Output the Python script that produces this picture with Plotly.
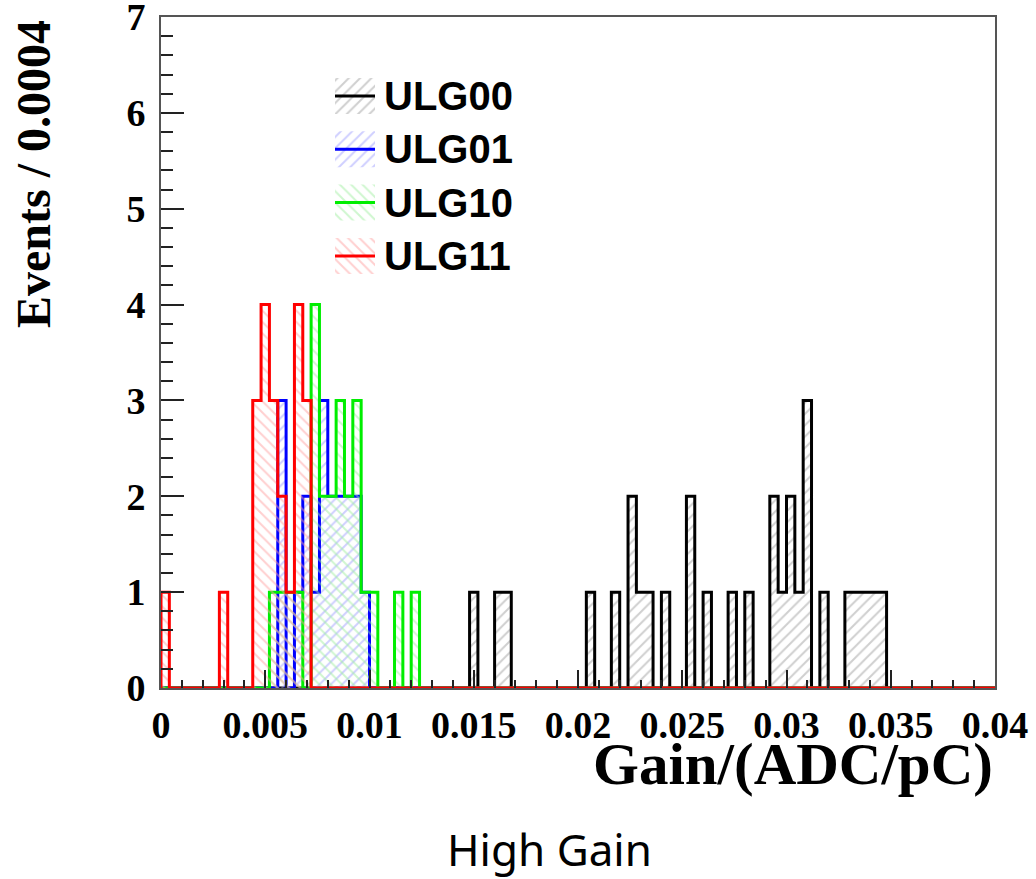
import plotly.graph_objects as go

# ---------------- data ----------------
x_min, x_max = 0.0, 0.04
bin_width = 0.0004
n_bins = 100

# non-empty bins (bin index, counts) per board
ulg00_bins = [37, 40, 41, 51, 54, 56, 57, 58, 60, 63, 65, 68, 70, 73, 74, 75, 76, 77, 79, 82, 83, 84, 85, 86]
ulg00_counts = [1, 1, 1, 1, 1, 2, 1, 1, 1, 2, 1, 1, 1, 2, 1, 2, 1, 3, 1, 1, 1, 1, 1, 1]

ulg01_bins = [14, 16, 17, 18, 19, 20, 21, 22, 23, 24]
ulg01_counts = [3, 1, 2, 1, 3, 2, 2, 2, 2, 1]

ulg10_bins = [13, 14, 15, 16, 18, 19, 20, 21, 22, 23, 24, 25, 28, 30]
ulg10_counts = [1, 1, 1, 1, 4, 2, 2, 3, 2, 3, 1, 1, 1, 1]

ulg11_bins = [0, 7, 11, 12, 13, 14, 15, 16, 17]
ulg11_counts = [1, 1, 3, 4, 3, 2, 1, 4, 3]

series_names = ["ULG00", "ULG01", "ULG10", "ULG11"]
line_colors = ["#000000", "#0000ff", "#00ee00", "#ff0000"]
hatch_colors = ["#a0a0a0", "#a0a0ff", "#a0eea0", "#ffa0a0"]
hatch_shapes = ["/", "/", "\\", "\\"]

x_ticks = [0, 0.005, 0.01, 0.015, 0.02, 0.025, 0.03, 0.035, 0.04]
y_ticks = [0, 1, 2, 3, 4, 5, 6, 7]

# ---------------- helpers ----------------
edges = [x_min + i * bin_width for i in range(n_bins + 1)]


def histogram(bins, counts):
    h = [0] * n_bins
    for b, c in zip(bins, counts):
        h[b] = c
    return h


def step_xy(h):
    xs = [edges[0]] + edges[:-1] + [edges[-1]]
    ys = [0] + h + [0]
    return xs, ys


all_series = [
    (ulg00_bins, ulg00_counts),
    (ulg01_bins, ulg01_counts),
    (ulg10_bins, ulg10_counts),
    (ulg11_bins, ulg11_counts),
]

fig = go.Figure()

for (bins, counts), name, lc, hc, hs in zip(all_series, series_names, line_colors, hatch_colors, hatch_shapes):
    xs, ys = step_xy(histogram(bins, counts))
    fig.add_trace(go.Scatter(
        x=xs, y=ys, mode="lines", name=name,
        line=dict(color=lc, width=3, shape="hv"),
        fill="tozeroy", fillcolor="rgba(0,0,0,0)",
        fillpattern=dict(shape=hs, fgcolor=hc, bgcolor="rgba(0,0,0,0)", size=8, solidity=0.25),
        showlegend=False, hoverinfo="skip",
    ))

# ---------------- manual legend (pixel-like overlay axes) ----------------
leg_x0, leg_w = 335, 40
leg_y0, leg_dy, leg_h = 96, 53.3, 36
for i, (name, lc, hc, hs) in enumerate(zip(series_names, line_colors, hatch_colors, hatch_shapes)):
    yc = leg_y0 + i * leg_dy
    fig.add_trace(go.Scatter(
        x=[leg_x0, leg_x0 + leg_w, leg_x0 + leg_w, leg_x0, leg_x0],
        y=[yc - leg_h / 2, yc - leg_h / 2, yc + leg_h / 2, yc + leg_h / 2, yc - leg_h / 2],
        mode="lines", line=dict(width=0, color="rgba(0,0,0,0)"),
        fill="toself", fillcolor="rgba(0,0,0,0)",
        fillpattern=dict(shape=hs, fgcolor=hc, bgcolor="rgba(0,0,0,0)", size=8, solidity=0.25),
        xaxis="x2", yaxis="y2", showlegend=False, hoverinfo="skip",
    ))
    fig.add_trace(go.Scatter(
        x=[leg_x0, leg_x0 + leg_w], y=[yc, yc], mode="lines",
        line=dict(color=lc, width=3),
        xaxis="x2", yaxis="y2", showlegend=False, hoverinfo="skip",
    ))
    fig.add_annotation(
        x=leg_x0 + leg_w + 7, y=yc, xref="x2", yref="y2",
        text=name, showarrow=False, xanchor="left", yanchor="middle",
        font=dict(family="Liberation Sans", size=40, color="black", weight="bold"),
    )

tick_font = dict(family="Liberation Serif", size=38, color="black", weight="bold")

fig.update_layout(
    width=1036, height=879,
    margin=dict(l=161, r=41, t=17, b=191),
    paper_bgcolor="white", plot_bgcolor="white",
    showlegend=False,
    xaxis=dict(
        range=[x_min, x_max], tickmode="array", tickvals=x_ticks,
        ticktext=[f"{v:g}" for v in x_ticks],
        ticks="inside", ticklen=18, tickwidth=1.5, tickcolor="#222",
        minor=dict(dtick=0.001, tick0=0, ticks="inside", ticklen=8, tickwidth=1.5, tickcolor="#222", showgrid=False),
        showline=True, linecolor="#555", linewidth=2, mirror=True, automargin=False,
        showgrid=False, zeroline=False, tickfont=tick_font, ticklabelstandoff=2,
        ticklabeloverflow="allow",
    ),
    yaxis=dict(
        range=[0, 7.0001], tickmode="array", tickvals=y_ticks,
        ticktext=[str(v) for v in y_ticks],
        ticks="inside", ticklen=23, tickwidth=1.5, tickcolor="#222",
        minor=dict(dtick=0.2, tick0=0, ticks="inside", ticklen=12, tickwidth=1.5, tickcolor="#222", showgrid=False),
        showline=True, linecolor="#555", linewidth=2, mirror=True, automargin=False,
        showgrid=False, zeroline=False, tickfont=tick_font, ticklabelstandoff=6,
        ticklabeloverflow="allow",
    ),
    xaxis2=dict(domain=[0, 1], range=[161, 995], overlaying="x", anchor="y2", visible=False, automargin=False),
    yaxis2=dict(domain=[0, 1], range=[688, 17], overlaying="y", anchor="x2", visible=False, automargin=False),
)

# axis titles as annotations (ROOT style: right / top aligned)
fig.add_annotation(
    x=1.0, y=(688 - 764) / 671, xref="paper", yref="paper",
    text="Gain/(ADC/pC)", showarrow=False, xanchor="right", yanchor="middle",
    font=dict(family="Liberation Serif", size=59, color="black", weight="bold"),
)
fig.add_annotation(
    x=(34 - 161) / 834, y=(688 - 18) / 671, xref="paper", yref="paper",
    text="Events / 0.0004", showarrow=False, textangle=-90, xanchor="center", yanchor="top",
    font=dict(family="Liberation Serif", size=48, color="black", weight="bold"),
)
fig.add_annotation(
    x=(549 - 161) / 834, y=(688 - 849) / 671, xref="paper", yref="paper",
    text="High Gain", showarrow=False, xanchor="center", yanchor="middle",
    font=dict(family="Noto Sans", size=44, color="black"),
)

fig.write_html(
    "out.html",
    config={"displayModeBar": False},
    post_script="document.body.style.margin='0';",
)
